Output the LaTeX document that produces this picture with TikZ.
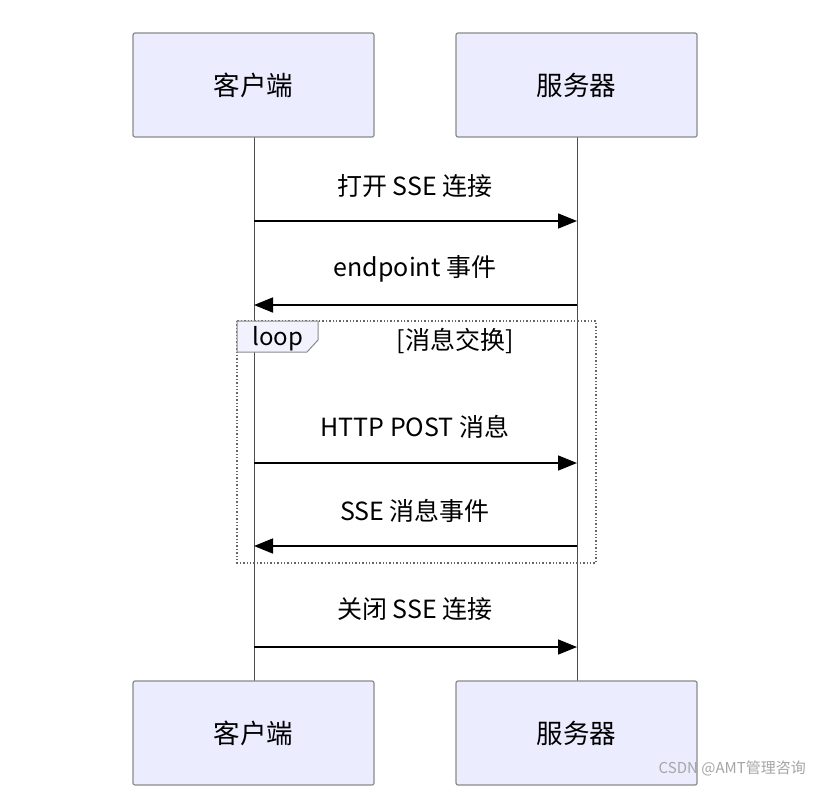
\documentclass[tikz,border=0pt]{standalone}
\usepackage{fontspec}
\setmainfont{Noto Sans CJK SC}
\newfontfamily\cjk{Noto Sans CJK SC}
\usetikzlibrary{arrows.meta}
\definecolor{actfill}{HTML}{ECECFF}
\definecolor{actline}{HTML}{8A8A8A}
\tikzset{
  actor/.style={draw=actline, line width=1.2pt, fill=actfill, rounded corners=2pt, minimum width=241pt, minimum height=104pt, font=\cjk\fontsize{26.5}{30}\selectfont, inner sep=0pt},
  life/.style={draw=black!70, line width=0.9pt},
  msg/.style={draw=black, line width=1.6pt, -{Triangle[length=19pt,width=15pt]}},
  lbl/.style={font=\cjk\fontsize{25}{28}\selectfont, inner sep=0pt},
}
\begin{document}
\begin{tikzpicture}[x=1pt,y=-1pt]
\useasboundingbox (0,0) rectangle (816,785);
\fill[white] (0,0) rectangle (816,785);
% lifelines
\coordinate (c0) at (254,137);
\coordinate (c1) at (254,681);
\coordinate (s0) at (577,137);
\coordinate (s1) at (577,681);
\draw[life] (c0) -- (c1);
\draw[life] (s0) -- (s1);
% actors
\node[actor] (ct) at (253.5,85) {客户端};
\node[actor] (st) at (576.5,85) {服务器};
\node[actor] (cb) at (253.5,733) {客户端};
\node[actor] (sb) at (576.5,733) {服务器};
% loop frame
\draw[black!60, line width=1.4pt, dotted] (237,321) rectangle (596,563);
\filldraw[fill=actfill!70!white, draw=actline, line width=1pt] (237,321) -- (318,321) -- (318,340) -- (307,352) -- (237,352) -- cycle;
\node[font=\cjk\fontsize{24}{27}\selectfont, anchor=west, inner sep=0pt] (looplbl) at (252,339) {loop};
\node[lbl] (cond) at (455,341) {[消息交换]};
% messages
\coordinate (m1a) at (254,221); \coordinate (m1b) at (577,221);
\coordinate (m2a) at (577,305); \coordinate (m2b) at (254,305);
\coordinate (m3a) at (254,463); \coordinate (m3b) at (577,463);
\coordinate (m4a) at (577,546); \coordinate (m4b) at (254,546);
\coordinate (m5a) at (254,647); \coordinate (m5b) at (577,647);
\draw[msg] (m1a) -- (m1b);
\draw[msg] (m2a) -- (m2b);
\draw[msg] (m3a) -- (m3b);
\draw[msg] (m4a) -- (m4b);
\draw[msg] (m5a) -- (m5b);
\node[lbl] (l1) at (415,186) {打开 SSE 连接};
\node[lbl] (l2) at (415,269) {endpoint 事件};
\node[lbl] (l3) at (415,427) {HTTP POST 消息};
\node[lbl] (l4) at (415,511) {SSE 消息事件};
\node[lbl] (l5) at (415,609) {关闭 SSE 连接};
% watermark
\node[font=\cjk\fontsize{15}{17}\selectfont, text=black!35, anchor=east, inner sep=0pt] (wm) at (806,768) {CSDN @AMT管理咨询};
\end{tikzpicture}
\end{document}
